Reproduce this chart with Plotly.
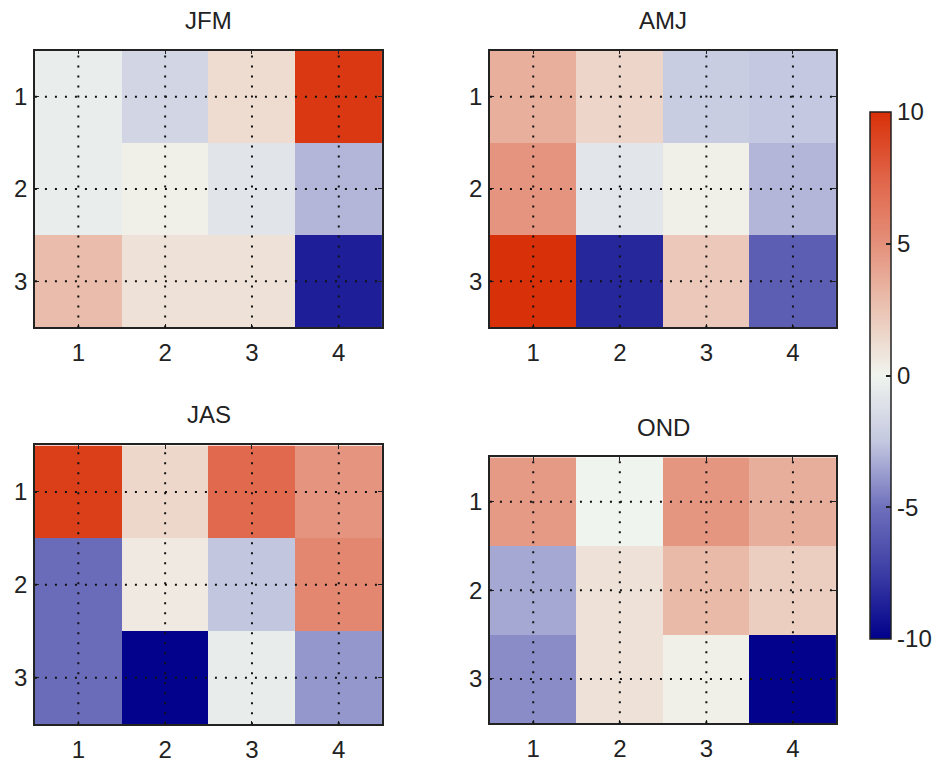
import plotly.graph_objects as go

W, H = 938, 763

seasons = ["JFM", "AMJ", "JAS", "OND"]
cols = [1, 2, 3, 4]
rows = [1, 2, 3]

z_jfm = [[-0.4, -1.7, 1.25, 9.6],
         [-0.4, 0.2, -0.85, -3.0],
         [2.9, 0.95, 0.95, -8.75]]
z_amj = [[3.5, 1.6, -2.2, -2.5],
         [4.8, -0.8, 0.2, -3.0],
         [10.0, -8.4, 2.3, -5.9]]
z_jas = [[9.3, 1.5, 7.2, 4.8],
         [-5.2, 0.55, -2.55, 5.5],
         [-5.2, -9.9, -0.45, -3.9]]
z_ond = [[4.5, 0.0, 4.7, 3.55],
         [-3.4, 0.95, 3.0, 2.0],
         [-4.2, 0.95, 0.2, -9.9]]
zs = [z_jfm, z_amj, z_jas, z_ond]

cbar_ticks = [-10, -5, 0, 5, 10]

colorscale = [
    [0.0, "rgb(0,0,139)"],
    [0.125, "rgb(60,61,164)"],
    [0.25, "rgb(110,112,188)"],
    [0.375, "rgb(196,200,224)"],
    [0.5, "rgb(240,244,238)"],
    [0.625, "rgb(235,196,180)"],
    [0.75, "rgb(228,144,122)"],
    [0.875, "rgb(224,100,72)"],
    [1.0, "rgb(216,48,8)"],
]

# panel boxes in pixels: (left, right, top, bottom)
boxes = [(35, 383, 51, 330), (491, 838, 51, 330),
         (35, 383, 449, 730), (491, 838, 461, 729)]
title_y = [21, 21, 418, 431]

FONT = "Liberation Sans"
TXT = "#222222"
FS = 24

fig = go.Figure()
layout = dict(width=W, height=H, margin=dict(l=0, r=0, t=0, b=0),
              paper_bgcolor="white", plot_bgcolor="white", showlegend=False,
              font=dict(family=FONT, size=FS, color=TXT))
shapes = []
annotations = []
for i, (name, z, box, ty) in enumerate(zip(seasons, zs, boxes, title_y)):
    n = "" if i == 0 else str(i + 1)
    l, r, t, b = box
    tr = go.Heatmap(z=z, x=cols, y=rows, zmin=-10, zmax=10,
                    colorscale=colorscale, xaxis="x" + n, yaxis="y" + n,
                    showscale=(i == 0), hoverinfo="x+y+z")
    if i == 0:
        tr.colorbar = dict(x=872 / W, xanchor="left", xpad=0, ypad=0,
                           y=1 - (115 + 642) / 2 / H, yanchor="middle",
                           lenmode="pixels", len=642 - 115,
                           thicknessmode="pixels", thickness=21,
                           outlinewidth=1.5, outlinecolor=TXT,
                           tickvals=cbar_ticks, ticktext=[str(v) for v in cbar_ticks],
                           ticks="inside", ticklen=5, tickcolor=TXT, tickwidth=1.5,
                           tickfont=dict(family=FONT, size=FS, color=TXT),
                           ticklabelposition="outside")
    fig.add_trace(tr)
    layout["xaxis" + n] = dict(domain=[l / W, r / W], range=[0.5, 4.5],
                               tickvals=cols, ticktext=[str(c) for c in cols],
                               tickfont=dict(family=FONT, size=FS, color=TXT),
                               showgrid=False, zeroline=False, showline=True,
                               linecolor=TXT, linewidth=1.5, mirror="ticks",
                               ticks="inside", ticklen=4, tickcolor=TXT,
                               ticklabelstandoff=3,
                               anchor="y" + n, fixedrange=True)
    layout["yaxis" + n] = dict(domain=[1 - b / H, 1 - t / H], range=[3.5, 0.5],
                               tickvals=rows, ticktext=[str(v) for v in rows],
                               tickfont=dict(family=FONT, size=FS, color=TXT),
                               showgrid=False, zeroline=False, showline=True,
                               linecolor=TXT, linewidth=1.5, mirror="ticks",
                               ticks="inside", ticklen=4, tickcolor=TXT,
                               ticklabelstandoff=1,
                               anchor="x" + n, fixedrange=True)
    for c in cols:
        shapes.append(dict(type="line", xref="x" + n, yref="y" + n + " domain",
                           x0=c, x1=c, y0=0, y1=1, layer="above",
                           line=dict(color="#111111", width=2, dash="2px,8px")))
    for rr in rows:
        shapes.append(dict(type="line", xref="x" + n + " domain", yref="y" + n,
                           x0=0, x1=1, y0=rr, y1=rr, layer="above",
                           line=dict(color="#111111", width=2, dash="2px,8px")))
    annotations.append(dict(text=name, xref="paper", yref="paper",
                            x=(l + r) / 2 / W, y=1 - ty / H,
                            xanchor="center", yanchor="middle", showarrow=False,
                            font=dict(family=FONT, size=FS, color=TXT)))

layout["shapes"] = shapes
layout["annotations"] = annotations
fig.update_layout(**layout)
fig.write_html("out.html")
